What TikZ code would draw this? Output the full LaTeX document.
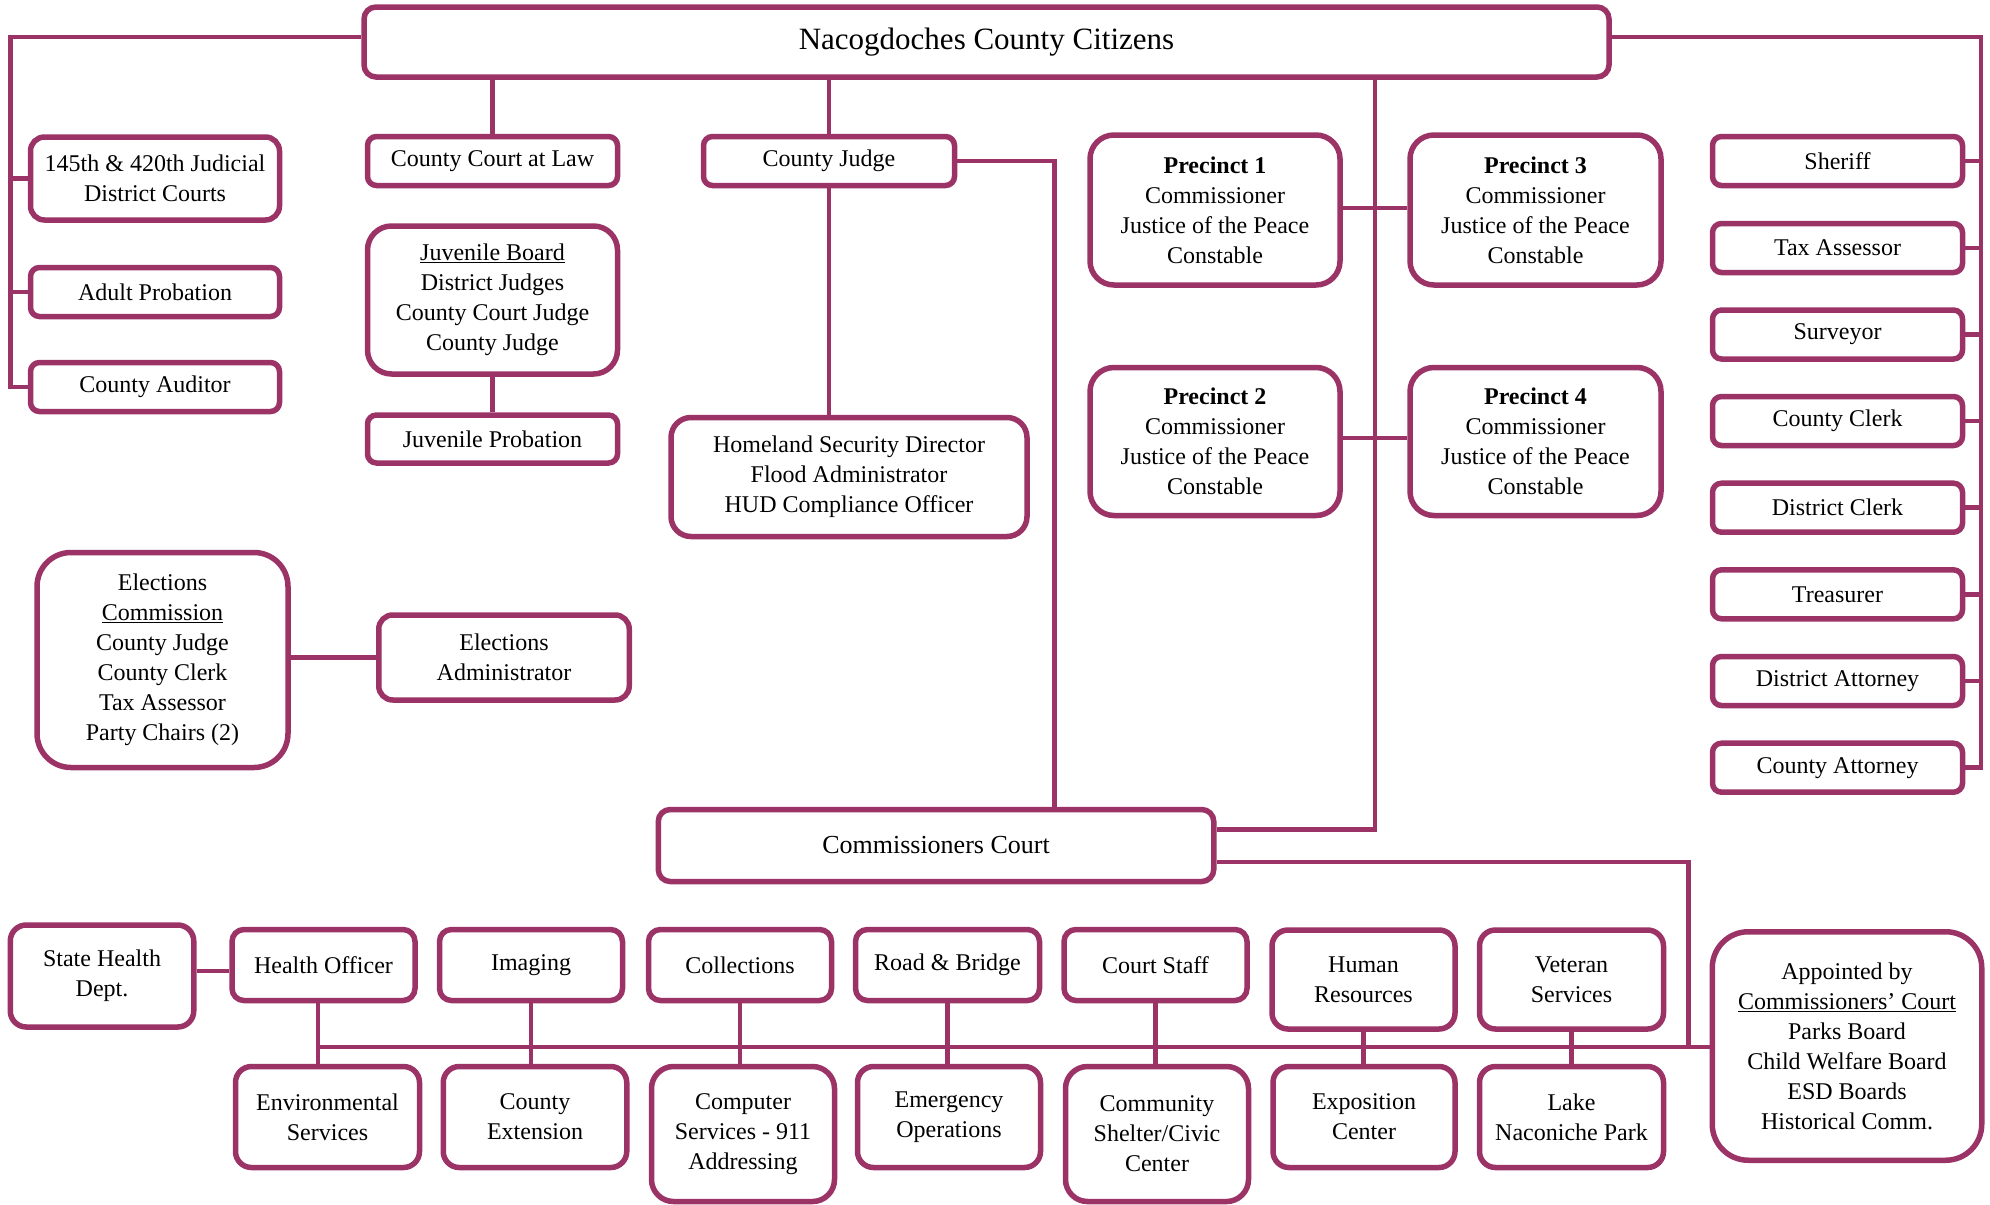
\documentclass[tikz,border=0pt]{standalone}
\usepackage{fontspec}
\setmainfont{Liberation Serif}
\definecolor{plum}{HTML}{9C3366}
\tikzset{
  ob/.style={draw=plum, line width=5.5pt, rounded corners=#1, fill=white, align=center,
    inner sep=0pt, text=black, font=\fontsize{24}{30}\selectfont},
  ob/.default=9pt,
  conn/.style={draw=plum, line width=4.6pt, line join=miter},
}
\begin{document}
\begin{tikzpicture}[x=1pt,y=-1pt]
\useasboundingbox (0,0) rectangle (1990,1205);
% top
\node[ob=12pt, minimum width=1245pt, minimum height=70pt, font=\fontsize{31}{36}\selectfont] (top) at (986.5,42) {Nacogdoches County Citizens};
% left column
\node[ob=14pt, minimum width=249pt, minimum height=83pt] (dc) at (155,178.5) {145th \& 420th Judicial\\District Courts};
\node[ob, minimum width=249pt, minimum height=49pt] (ap) at (155,292) {Adult Probation};
\node[ob, minimum width=249pt, minimum height=49pt] (aud) at (155,387) {County Auditor};
% county court at law / juvenile
\node[ob, minimum width=250pt, minimum height=49pt] (ccl) at (492.5,161) {County Court at Law};
\node[ob=24pt, minimum width=250pt, minimum height=148pt] (jb) at (492.5,300) {\underline{Juvenile Board}\\District Judges\\County Court Judge\\County Judge};
\node[ob, minimum width=250pt, minimum height=48pt] (jp) at (492.5,439) {Juvenile Probation};
% county judge
\node[ob, minimum width=251pt, minimum height=49pt] (cj) at (829,161) {County Judge};
\node[ob=20pt, minimum width=356pt, minimum height=119pt] (hs) at (849,477) {Homeland Security Director\\Flood Administrator\\HUD Compliance Officer};
% precincts
\node[ob=24pt, minimum width=250pt, minimum height=150pt] (p1) at (1215,210) {\textbf{Precinct 1}\\Commissioner\\Justice of the Peace\\Constable};
\node[ob=24pt, minimum width=251pt, minimum height=150pt] (p3) at (1535.5,210) {\textbf{Precinct 3}\\Commissioner\\Justice of the Peace\\Constable};
\node[ob=24pt, minimum width=250pt, minimum height=148pt] (p2) at (1215,441.5) {\textbf{Precinct 2}\\Commissioner\\Justice of the Peace\\Constable};
\node[ob=24pt, minimum width=251pt, minimum height=148pt] (p4) at (1535.5,441.5) {\textbf{Precinct 4}\\Commissioner\\Justice of the Peace\\Constable};
% right column
\node[ob, minimum width=250pt, minimum height=49pt] (sher) at (1837.5,161) {Sheriff};
\node[ob, minimum width=250pt, minimum height=49pt] (tax) at (1837.5,248) {Tax Assessor};
\node[ob, minimum width=250pt, minimum height=49pt] (surv) at (1837.5,334.5) {Surveyor};
\node[ob, minimum width=250pt, minimum height=49pt] (cclerk) at (1837.5,421) {County Clerk};
\node[ob, minimum width=250pt, minimum height=49pt] (dclerk) at (1837.5,507.7) {District Clerk};
\node[ob, minimum width=250pt, minimum height=49pt] (treas) at (1837.5,594.3) {Treasurer};
\node[ob, minimum width=250pt, minimum height=49pt] (da) at (1837.5,681) {District Attorney};
\node[ob, minimum width=250pt, minimum height=49pt] (ca) at (1837.5,767.7) {County Attorney};
% elections
\node[ob=34pt, minimum width=251pt, minimum height=215pt] (ec) at (162.5,660) {Elections\\\underline{Commission}\\County Judge\\County Clerk\\Tax Assessor\\Party Chairs (2)};
\node[ob=14pt, minimum width=250.5pt, minimum height=85pt] (ea) at (504,657.5) {Elections\\Administrator};
% commissioners court
\node[ob=12pt, minimum width=555.5pt, minimum height=72pt, font=\fontsize{26}{30}\selectfont] (cc) at (936,845.5) {Commissioners Court};
% bottom rows
\node[ob=16pt, minimum width=183.5pt, minimum height=102pt] (sh) at (102,976) {State Health\\Dept.};
\node[ob=12pt, minimum width=183pt, minimum height=71pt] (ho) at (323.5,965) {Health Officer};
\node[ob=12pt, minimum width=183pt, minimum height=71pt] (img) at (531,965) {Imaging};
\node[ob=12pt, minimum width=183pt, minimum height=71pt] (coll) at (740,965) {Collections};
\node[ob=12pt, minimum width=184pt, minimum height=71pt] (rb) at (947.5,965) {Road \& Bridge};
\node[ob=12pt, minimum width=183pt, minimum height=71pt] (cs) at (1155.5,965) {Court Staff};
\node[ob=16pt, minimum width=183pt, minimum height=99pt] (hr) at (1363.5,979.5) {Human\\Resources};
\node[ob=16pt, minimum width=184pt, minimum height=99pt] (vs) at (1571.5,979.5) {Veteran\\Services};
\node[ob=16pt, minimum width=184pt, minimum height=101pt] (env) at (327.5,1117) {Environmental\\Services};
\node[ob=16pt, minimum width=183.5pt, minimum height=101pt] (ext) at (535,1117) {County\\Extension};
\node[ob=22pt, minimum width=183pt, minimum height=135pt] (comp) at (743,1134) {Computer\\Services - 911\\Addressing};
\node[ob=16pt, minimum width=183pt, minimum height=101pt] (emo) at (949,1117) {Emergency\\Operations};
\node[ob=22pt, minimum width=183pt, minimum height=135pt] (comm) at (1157,1134) {Community\\Shelter/Civic\\Center};
\node[ob=16pt, minimum width=182pt, minimum height=101pt] (expo) at (1364,1117) {Exposition\\Center};
\node[ob=16pt, minimum width=184pt, minimum height=101pt] (lake) at (1571.5,1117) {Lake\\Naconiche Park};
\node[ob=36pt, minimum width=269.5pt, minimum height=228.5pt] (app) at (1847,1046) {Appointed by\\\underline{Commissioners’ Court}\\Parks Board\\Child Welfare Board\\ESD Boards\\Historical Comm.};
% connectors
\coordinate (L) at (10.5,37);
\coordinate (R) at (1981,37);
\draw[conn] (top.west |- L) -- (L) -- (L |- aud.west) -- (aud.west);
\draw[conn] (L |- dc.west) -- (dc.west);
\draw[conn] (L |- ap.west) -- (ap.west);
\draw[conn] (top.east |- R) -- (R) -- (R |- ca.east) -- (ca.east);
\foreach \n in {sher,tax,surv,cclerk,dclerk,treas,da} \draw[conn] (\n.east) -- (\n.east -| R);
\draw[conn] (ccl.north) -- (ccl.north |- top.south);
\draw[conn] (jb.south) -- (jp.north);
\draw[conn] (cj.north) -- (cj.north |- top.south);
\draw[conn] (cj.south) -- (cj.south |- hs.north);
\coordinate (J) at (1054.5,0);
\draw[conn] (cj.east) -- (cj.east -| J) -- (J |- cc.north);
\coordinate (P) at (1375,829.5);
\draw[conn] (P |- top.south) -- (P) -- (P -| cc.east);
\draw[conn] ([yshift=2pt]p1.east) -- ([yshift=2pt]p3.west);
\draw[conn] ([yshift=3.5pt]p2.east) -- ([yshift=3.5pt]p4.west);
\coordinate (K) at (1688.5,862);
\coordinate (B) at (318,1047);
\draw[conn] (K -| cc.east) -- (K) -- (K |- B);
\draw[conn] (B) -- (B -| app.west);
\draw[conn] (ea.west) -- (ea.west -| ec.east);
\coordinate (S) at (0,971);
\draw[conn] (sh.east |- S) -- (ho.west |- S);
\draw[conn] (B |- ho.south) -- (B |- env.north);
\foreach \a/\b in {img/ext, coll/comp, rb/emo, cs/comm, hr/expo, vs/lake} \draw[conn] (\a.south) -- (\a.south |- \b.north);
\end{tikzpicture}
\end{document}
